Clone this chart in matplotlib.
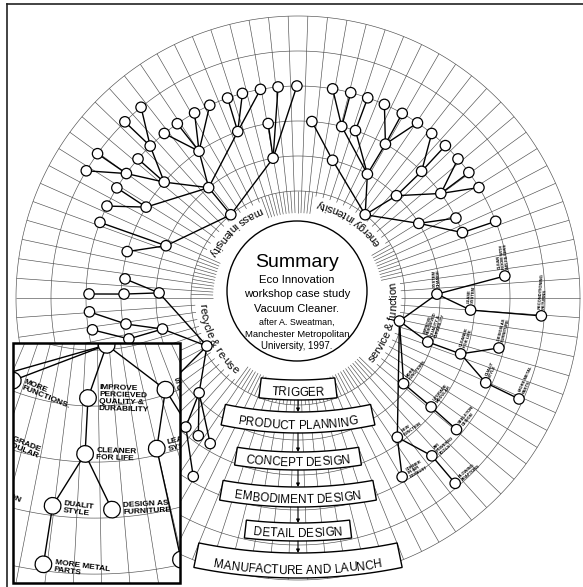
import numpy as np
import matplotlib
matplotlib.use("Agg")
import matplotlib.pyplot as plt
from matplotlib import font_manager as fm
from matplotlib.ft2font import FT2Font
from matplotlib.collections import LineCollection
from matplotlib.patches import Circle, Polygon, Rectangle
from matplotlib.transforms import Affine2D

W, H, DPI = 583, 587, 100
CENTRE = (298, 298)        # centre of the wheel (px)
BOX_CENTRE = (298, 60)     # centre of curvature of the process banners
rings = [107, 142, 177, 212, 247, 282]

# sector titles round the hub
sector_titles = ["mass intensity", "energy intensity", "service & function", "recycle & re-use"]
sector_angles = [133, 56, -16, 207]

# trees: (node, angle deg, radius px, parent)
mass_tree = [
    ("m0", 128.9, 107, None),
    ("m1", 129.0, 142, "m0"), ("m2", 100.1, 142, "m0"), ("m3", 158.4, 142, "m0"),
    ("m1a", 139.1, 177, "m1"), ("m1b", 149.1, 177, "m1"), ("m1c", 124.0, 177, "m1"), ("m1d", 109.9, 177, "m1"),
    ("m1a1", 144.05, 212, "m1a"), ("m1a2", 134.2, 212, "m1a"), ("m1a3", 139.0, 212, "m1a"),
    ("m1a1x", 149.0, 247, "m1a1"), ("m1a1y", 144.25, 247, "m1a1"),
    ("m1a2x", 134.5, 247, "m1a2"), ("m1a2y", 129.45, 247, "m1a2"),
    ("m1b1", 154.3, 212, "m1b"), ("m1b2", 148.7, 212, "m1b"),
    ("m1c1", 129.1, 212, "m1c"), ("m1c2", 124.7, 212, "m1c"), ("m1c3", 119.2, 212, "m1c"), ("m1c4", 114.6, 212, "m1c"),
    ("m1d1", 109.4, 212, "m1d"), ("m1d2", 105.2, 212, "m1d"), ("m1d3", 100.2, 212, "m1d"),
    ("m2a", 99.7, 177, "m2"), ("m2b", 95.4, 212, "m2"), ("m2c", 90.3, 212, "m2"),
    ("m3a", 164.8, 177, "m3"), ("m3b", 159.1, 212, "m3"),
]
energy_tree = [
    ("e0", 51.1, 107, None),
    ("e1", 75.9, 142, "e0"), ("e2", 60.75, 142, "e0"), ("e3", 46.1, 142, "e0"), ("e4", 31.7, 142, "e0"),
    ("e1a", 85.5, 177, "e1"),
    ("e2a", 75.7, 177, "e2"), ("e2b", 71.05, 177, "e2"), ("e2c", 60.4, 177, "e2"),
    ("e2a1", 80.6, 212, "e2a"), ("e2a2", 75.6, 212, "e2a"), ("e2b1", 70.8, 212, "e2b"),
    ("e2c1", 65.95, 212, "e2c"), ("e2c2", 60.55, 212, "e2c"), ("e2c3", 55.7, 212, "e2c"),
    ("e3a", 45.7, 177, "e3"), ("e3b", 36.2, 177, "e3"),
    ("e3a1", 50.9, 212, "e3a"), ("e3a2", 45.95, 212, "e3a"),
    ("e3b1", 41.0, 212, "e3b"), ("e3b2", 36.3, 212, "e3b"), ("e3b3", 31.4, 212, "e3b"),
    ("e4a", 26.85, 177, "e4"), ("e4b", 21.7, 177, "e4"), ("e4b1", 21.2, 212, "e4b"),
]
recycle_tree = [
    ("r0", 207.8, 103, None),
    ("r1", 177.9, 139, "r0"), ("r2", 192.9, 139, "r0"), ("r3", 223.8, 137, "r0"), ("r4", 215.0, 174, "r0"),
    ("r1a", 173.7, 174, "r1"), ("r1b", 178.7, 174, "r1"), ("r1b1", 178.9, 209, "r1b"),
    ("r2a", 188.6, 174, "r2"), ("r2b", 193.6, 174, "r2"),
    ("r2a1", 183.8, 209, "r2a"), ("r2b1", 188.8, 208, "r2b"),
    ("r3a", 229.0, 171, "r3"), ("r3b", 234.1, 170, "r3"), ("r3c", 238.9, 170, "r3"),
    ("r3a1", 239.6, 207, "r3a"),
]
# service & function: (node, angle, radius, parent, label)
service_tree = [
    ("s0", -12.8, 104, None, ""),
    ("s1", 1.6, 139, "s0", "SYSTEM\nCHANGE"),
    ("s2", -18.7, 137, "s0", "IMPROVE\nPERCIEVED\nQUALITY &\nDURABILITY"),
    ("s3", -39.05, 136, "s0", "MORE\nFUNCTIONS."),
    ("s4", -54.5, 171, "s0", "NEW\nFUNCTION"),
    ("s1a", 6.07, 208, "s1", "CLEAN\nROOM WITH\nAIR FILTERS"),
    ("s1b", -4.0, 173, "s1", "LEASE\nSYSTEM"),
    ("s1b1", -4.2, 244, "s1b", "RECONDITIONING\nRETURNS"),
    ("s2a", -18.96, 172, "s2", "CLEANER\nFOR LIFE"),
    ("s2a1", -13.97, 207, "s2a", "DESIGN AS\nFURNITURE"),
    ("s2a2", -24.3, 206, "s2a", "DUALIT\nSTYLE"),
    ("s2a2a", -24.55, 243, "s2a2", "MORE METAL\nPARTS"),
    ("s3a", -39.3, 172, "s3", "UPGRADE\nMODULAR"),
    ("s3a1", -39.7, 206, "s3a", "SKELETON\nDESIGN"),
    ("s4a", -49.7, 207, "s4", "AIR\nPOWERED\nTOOLS"),
    ("s4b", -59.8, 207, "s4", "CORNER\nIN AIR\nEXHAUST"),
    ("s4a1", -49.7, 243, "s4a", "BLOWING\nADAPTORS"),
]

summary_lines = ["Summary", "Eco Innovation", "workshop case study", "Vacuum Cleaner.",
                 "after A. Sweatman,", "Manchester Metropolitan", "University, 1997."]
stages = ["TRIGGER", "PRODUCT PLANNING", "CONCEPT DESIGN", "EMBODIMENT DESIGN",
          "DETAIL DESIGN", "MANUFACTURE AND LAUNCH"]

# layout
summary_sizes = [14, 8.2, 8.2, 8.0, 6.4, 6.8, 6.9]
summary_base = [267, 283, 297, 312, 325, 337, 349]
stage_radii = [(320, 340), (352, 373), (392, 410), (427, 447), (463, 481), (493, 518)]
stage_half = [6.6, 11.9, 8.9, 10.1, 6.4, 11.6]
NODE_R = 5.2
LABEL_GAP = 7
INSET = (13, 343, 167, 240)
INSET_ROT, INSET_SCALE, INSET_PIVOT = 73, 1.6, (88, 398)
GRID = "#4d4d4d"

names = {f.name for f in fm.fontManager.ttflist}
NARROW = "Liberation Sans Narrow" if "Liberation Sans Narrow" in names else "Liberation Sans"
small_main = 3.4 if NARROW != "Liberation Sans" else 3.0
small_inset = 6.8 if NARROW != "Liberation Sans" else 6.0


def polar(c, r, a):
    t = np.radians(a)
    return c[0] + r * np.cos(t), c[1] - r * np.sin(t)


def advances(s, size):
    f = FT2Font(fm.findfont(fm.FontProperties(family="Liberation Sans")))
    f.set_size(size, DPI)
    return np.array([f.load_char(ord(ch)).linearHoriAdvance / 65536 for ch in s])


fig = plt.figure(figsize=(W / DPI, H / DPI), dpi=DPI)
ax = fig.add_axes([0, 0, 1, 1])
ax.set_xlim(0, W)
ax.set_ylim(H, 0)
ax.axis("off")


def arc_text(s, c, r, a_mid, size, z):
    adv = advances(s, size)
    p = np.cumsum(adv) - adv / 2 - adv.sum() / 2
    for ch, d in zip(s, p):
        a = a_mid + np.degrees(d / r)
        x, y = polar(c, r, a)
        ax.text(x, y, ch, rotation=a + 90, rotation_mode="anchor", ha="center",
                va="baseline", fontsize=size, family="Liberation Sans", zorder=z)
    return np.degrees(adv.sum() / 2 / r)


# sector titles (also gives the gaps in the inner ticks)
gaps = []
for s, a in zip(sector_titles, sector_angles):
    half = arc_text(s, CENTRE, 99, a, 8, 4)
    gaps.append((a - half - 2, a + half + 2))


def in_gap(a):
    a = (a + 180) % 360 - 180
    for lo, hi in gaps:
        lo2, hi2 = (lo + 180) % 360 - 180, (hi + 180) % 360 - 180
        if lo2 <= a <= hi2 or (lo2 > hi2 and (a >= lo2 or a <= hi2)):
            return True
    return False


grid = []
t = np.linspace(0, 360, 721)
for r in rings:
    grid.append(np.array([polar(CENTRE, r, a) for a in t]))
for a in np.arange(0, 360, 4):
    r0 = 103 if in_gap(a) else 85
    grid.append(np.array([polar(CENTRE, r0, a), polar(CENTRE, rings[-1], a)]))
for a in np.arange(2, 360, 4):
    if not in_gap(a):
        grid.append(np.array([polar(CENTRE, 85, a), polar(CENTRE, rings[0], a)]))

nodes = mass_tree + energy_tree + recycle_tree + [row[:4] for row in service_tree]
pos = {n: polar(CENTRE, r, a) for n, a, r, p in nodes}
edges = [(pos[p], pos[n]) for n, a, r, p in nodes if p]

inset_tr = (Affine2D().translate(-pos["s2"][0], -pos["s2"][1]).rotate_deg(INSET_ROT)
            .scale(INSET_SCALE).translate(*INSET_PIVOT))
inset_box = Rectangle(INSET[:2], INSET[2], INSET[3], fc="white", ec="none", zorder=10)
ax.add_patch(inset_box)

for tr, z, clip in [(ax.transData, 0, None), (inset_tr + ax.transData, 10, inset_box)]:
    arts = [ax.add_collection(LineCollection(grid, colors=GRID, linewidths=0.45,
                                             transform=tr, zorder=z + 1)),
            ax.add_collection(LineCollection(edges, colors="black", linewidths=1.0,
                                             transform=tr, zorder=z + 2))]
    for xy in pos.values():
        arts.append(ax.add_patch(Circle(xy, NODE_R, fc="white", ec="black", lw=0.9,
                                        transform=tr, zorder=z + 3)))
    if clip is not None:
        for art in arts:
            art.set_clip_path(clip)

# service labels, main and in the enlarged inset
for n, a, r, p, lab in service_tree:
    if not lab:
        continue
    x, y = pos[n]
    th = np.radians(a)
    ox, oy = x - LABEL_GAP * np.sin(th), y - LABEL_GAP * np.cos(th)
    ax.text(ox, oy, lab, rotation=a + 90, rotation_mode="anchor", ha="left", va="center",
            fontsize=small_main, weight="bold", family=NARROW, linespacing=1.0, zorder=4)
    ix, iy = inset_tr.transform((ox, oy))
    tx = ax.text(ix, iy, lab, rotation=a + 90 - INSET_ROT, rotation_mode="anchor",
                 ha="left", va="center", fontsize=small_inset, weight="bold",
                 family=NARROW, linespacing=1.0, zorder=14, clip_on=True)
    tx.set_clip_path(inset_box)

ax.add_patch(Rectangle(INSET[:2], INSET[2], INSET[3], fc="none", ec="black", lw=1.8, zorder=20))

# hub
ax.add_patch(Circle((297, 291), 70, fc="white", ec="black", lw=1.0, zorder=5))
for s, fs, yb in zip(summary_lines, summary_sizes, summary_base):
    ax.text(297, yb, s, ha="center", va="baseline", fontsize=fs, family="Liberation Sans", zorder=6)

# design process banners
for i, (s, (r0, r1), hw) in enumerate(zip(stages, stage_radii, stage_half)):
    tt = np.linspace(-90 - hw, -90 + hw, 40)
    poly = [polar(BOX_CENTRE, r1, a) for a in tt] + [polar(BOX_CENTRE, r0, a) for a in tt[::-1]]
    ax.add_patch(Polygon(poly, closed=True, fc="white", ec="black", lw=1.0, zorder=6))
    arc_text(s, BOX_CENTRE, r1 - 4, -90, 8.5, 7)
    if i + 1 < len(stages):
        ax.annotate("", xy=(BOX_CENTRE[0], BOX_CENTRE[1] + stage_radii[i + 1][0]),
                    xytext=(BOX_CENTRE[0], BOX_CENTRE[1] + r1),
                    arrowprops=dict(arrowstyle="-|>", color="black", lw=0.8,
                                    mutation_scale=5, shrinkA=0, shrinkB=0), zorder=7)

# page frame
ax.plot([7, 7], [4, H], color="#222222", lw=1.2, zorder=21)
ax.plot([7, W], [4, 4], color="#222222", lw=1.2, zorder=21)

fig.savefig("out.png", dpi=DPI)
